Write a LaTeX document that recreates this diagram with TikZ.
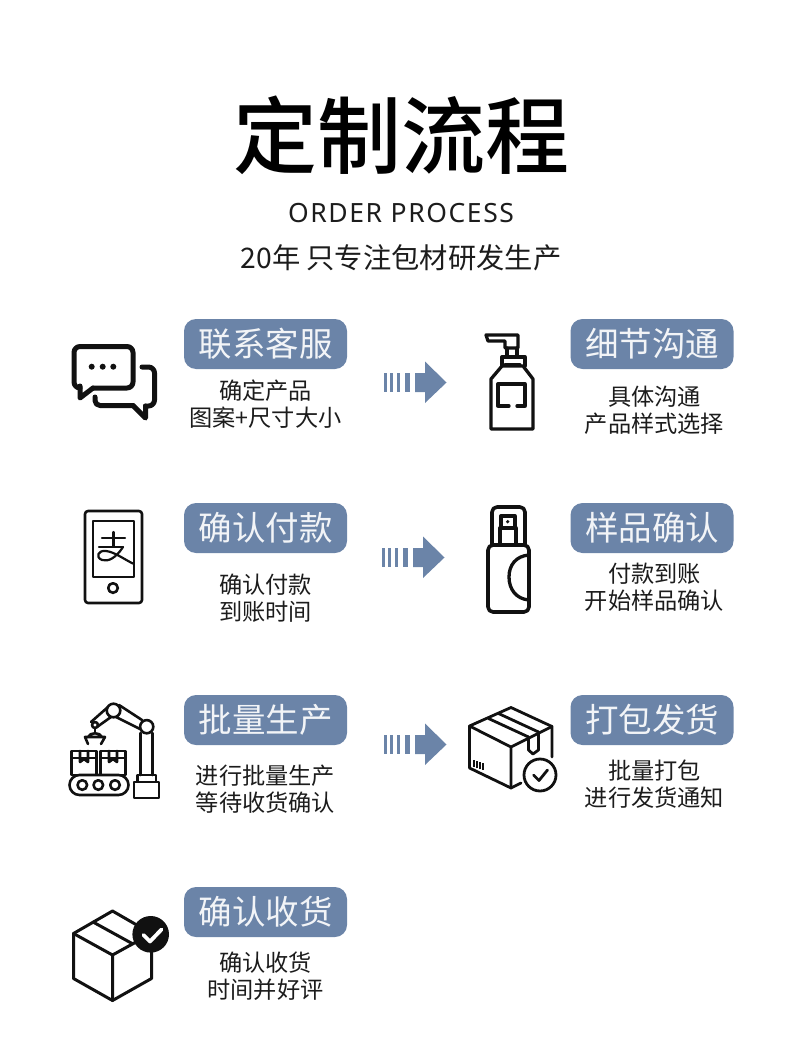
\documentclass[tikz,border=0pt]{standalone}
\usepackage{fontspec}
\usepackage{xcolor}
\usetikzlibrary{positioning}
\setmainfont{Noto Sans CJK SC}
\newfontfamily\latinfont[LetterSpace=6]{Noto Sans}
\newfontfamily\headfont{Noto Sans CJK SC Medium}
\definecolor{pillblue}{HTML}{6B84A8}
\definecolor{inkblack}{HTML}{111111}
\definecolor{bodygray}{HTML}{1C1C1C}
\definecolor{pillwhite}{HTML}{F2F4F7}

\begin{document}
\begin{tikzpicture}[
  x=1pt,y=-1pt,
  pillbox/.style={fill=pillblue,rounded corners=12pt,minimum width=163pt,minimum height=50pt,inner sep=0pt,text=pillwhite,font=\fontsize{33.5}{33.5}\selectfont},
  note/.style={inner sep=0pt,align=center,text=bodygray,font=\fontsize{23.2}{27}\selectfont},
  icon/.style={draw=inkblack,line width=3.3pt,line join=round,line cap=round},
  thinicon/.style={icon,line width=2.6pt},
  arrowmark/.pic={
    \fill[pillblue] (0,-9) rectangle (3,10);
    \fill[pillblue] (6,-9) rectangle (9.5,10);
    \fill[pillblue] (13.5,-9) rectangle (16.5,10);
    \fill[pillblue] (21,-9) rectangle (26.5,10);
    \fill[pillblue] (31.5,-9) -- (41.5,-9) -- (41.5,-20.5) -- (63,0.5) -- (41.5,21) -- (41.5,10) -- (31.5,10) -- cycle;
  }
]
\useasboundingbox (0,0) rectangle (800,1056);

% heading
\node[inner sep=0pt,text=black,font=\fontsize{84}{84}\selectfont\headfont] (title) at (401,135) {定制流程};
\node[inner sep=0pt,text=bodygray,font=\fontsize{26.5}{26.5}\selectfont\latinfont,below=28pt of title] (subtitle) {ORDER PROCESS};
\node[inner sep=0pt,text=bodygray,font=\fontsize{28.3}{28.3}\selectfont,below=22pt of subtitle] (slogan) {20年 只专注包材研发生产};

% left column
\node[pillbox] (contact) at (265.5,344) {联系客服};
\node[note,below=10.5pt of contact] (contactnote) {确定产品\\图案+尺寸大小};
\node[pillbox] (payment) at (265.5,528) {确认付款};
\node[note,below=20.5pt of payment] (paymentnote) {确认付款\\到账时间};
\node[pillbox] (batch) at (265.5,720) {批量生产};
\node[note,below=19.5pt of batch] (batchnote) {进行批量生产\\等待收货确认};
\node[pillbox] (receipt) at (265.5,912) {确认收货};
\node[note,below=14.5pt of receipt] (receiptnote) {确认收货\\时间并好评};

% right column
\node[pillbox] (detail) at (652,344) {细节沟通};
\node[note,below=16.5pt of detail,xshift=2.5pt] (detailnote) {具体沟通\\产品样式选择};
\node[pillbox] (sample) at (652,528) {样品确认};
\node[note,below=10pt of sample,xshift=2.5pt] (samplenote) {付款到账\\开始样品确认};
\node[pillbox] (packing) at (652,720) {打包发货};
\node[note,below=14.5pt of packing,xshift=2.5pt] (packingnote) {批量打包\\进行发货通知};

% arrows
\pic at (383.5,382) {arrowmark};
\pic at (381.5,557) {arrowmark};
\pic at (383.5,744) {arrowmark};

% chat icon
\draw[icon,line width=5pt,rounded corners=6pt] (93,388) -- (133,388) -- (133,346.5) -- (74,346.5) -- (74,388) -- (80,388);
\draw[icon,line width=5pt] (80,386) -- (80,398) -- (93,388);
\fill[inkblack] (91.7,366.7) circle (3) (102.7,366.7) circle (3) (113.3,366.7) circle (3);
\draw[icon,line width=5pt,rounded corners=6pt] (142,367) -- (154.5,367) -- (154.5,406) -- (145.5,406);
\draw[icon,line width=5pt] (145.5,406) -- (145.5,418) -- (133,405.5);
\draw[icon,line width=5pt,rounded corners=5pt] (133,405.5) -- (95,405.5) -- (95,397);

% pump bottle
\draw[icon] (491,429) -- (533,429) -- (533,379) -- (523,366) -- (502,366) -- (491,379) -- cycle;
\draw[icon] (502,366) -- (502,357) -- (525,357) -- (525,366);
\draw[icon] (507,357) -- (507,348) (517,357) -- (517,348);
\draw[icon] (505,348) -- (518,348) -- (518,335) -- (486,335) -- (488,341) -- (505,341) -- cycle;
\draw[icon] (505,365) -- (520,365);
\draw[icon] (509,406) -- (498,406) -- (498,384) -- (525,384) -- (525,406) -- (517,406);

% phone
\draw[icon,line width=2.6pt,rounded corners=3pt] (85,511) rectangle (142,603);
\draw[icon,line width=2.6pt] (93,521) rectangle (134,577);
\draw[icon,line width=2.6pt] (113,588) circle (4.8);
\draw[icon,line width=2.2pt] (102,538) -- (125,538) (113.5,532) -- (113.5,546) (99,547) -- (123,547);
\draw[icon,line width=2.2pt] (123,547) .. controls (116,558) and (108,562) .. (102,560) .. controls (95,557) and (98,550) .. (106,551) .. controls (115,552) and (125,560) .. (134,564);

% spray bottle
\draw[icon,line width=3.6pt,rounded corners=5pt] (488,545) rectangle (529,612);
\draw[icon,line width=3.6pt,rounded corners=5pt] (492,545) -- (492,507) -- (525,507) -- (525,545);
\draw[icon] (500,544) -- (500,528) -- (516,528) -- (516,544);
\draw[icon] (501,516) rectangle (515,528);
\fill[inkblack] (507.7,521.7) circle (1.8);
\draw[icon] (529,555) .. controls (516,556) and (509,565) .. (509,577) .. controls (509,589) and (516,599) .. (529,600);

% robot arm
\draw[thinicon,rounded corners=10pt] (69.5,775) rectangle (128.5,795);
\draw[thinicon] (82.3,785) circle (4.8) (98.3,785) circle (4.8) (115,785) circle (4.8);
\draw[thinicon] (71.7,775) rectangle (96.7,751) (100.7,775) rectangle (125.7,751);
\draw[thinicon] (71.7,758) -- (96.7,758) (100.7,758) -- (125.7,758);
\draw[thinicon] (80,751) -- (80,762) -- (84,759) -- (88,762) -- (88,751);
\draw[thinicon] (109,751) -- (109,762) -- (113,759) -- (117,762) -- (117,751);
\draw[thinicon] (134,782) rectangle (159,798) (137.5,775) rectangle (156,782);
\draw[thinicon] (140.5,775) -- (140.5,733) (152.5,775) -- (152.5,733);
\draw[thinicon] (146.7,726.7) circle (6.6) (113.5,710.5) circle (6.8);
\draw[thinicon] (119,705) -- (142,720) (116,717) -- (140,729);
\draw[thinicon] (108,707) -- (91,722) (111,717) -- (97,727);
\draw[thinicon] (95,725) circle (3);
\draw[thinicon] (95,728) -- (95,733);
\draw[thinicon] (88,744) -- (85,737) -- (105,737) -- (101,744) (88,737) .. controls (90,732) and (100,732) .. (102,737);

% parcel with check
\draw[icon,line width=2.8pt] (521,783) -- (511,788) -- (469.5,768) -- (469.5,726) -- (511,707.5) -- (552,726.5) -- (552,757);
\draw[icon,line width=2.8pt] (469.5,726) -- (511,747) -- (511,788) (511,747) -- (552,726.5);
\draw[icon,line width=2.8pt] (488.5,718.5) -- (528.5,737) (498.5,713.5) -- (538.5,732);
\draw[icon,line width=2.8pt] (528.5,737) -- (528.5,750) -- (533,754) -- (538.5,750) -- (538.5,732);
\draw[icon,line width=1.6pt,line cap=butt] (474,760) -- (474,767) (477,761) -- (477,768) (480,762) -- (480,769) (483,763) -- (483,770);
\draw[icon,line width=2.8pt] (540,775) circle (16);
\draw[icon,line width=2.8pt] (533.5,775) -- (539,780.5) -- (547.5,770);

% closed box with badge
\draw[icon,line width=3pt] (112.5,911) -- (73.5,933.5) -- (73.5,978.5) -- (112.5,1000.5) -- (151.5,978.5) -- (151.5,933.5) -- cycle;
\draw[icon,line width=3pt] (73.5,933.5) -- (112.5,955) -- (151.5,933.5) (112.5,955) -- (112.5,1000.5) (93,922) -- (133,944);
\fill[inkblack] (150.7,934.3) circle (18.3);
\draw[white,line width=3.8pt,line cap=round,line join=round] (143.5,935) -- (150,941.5) -- (161.5,929.5);
\end{tikzpicture}
\end{document}
